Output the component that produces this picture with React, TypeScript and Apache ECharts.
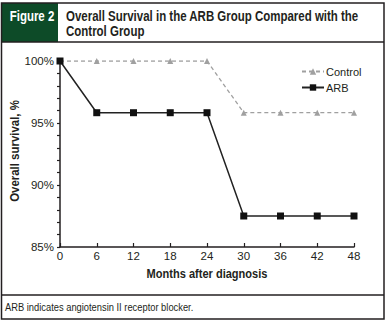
import React, { useEffect, useRef } from "react";
import * as echarts from "echarts";

const months = [0, 6, 12, 18, 24, 30, 36, 42, 48];
const controlValues = [100, 100, 100, 100, 100, 95.83, 95.83, 95.83, 95.83];
const arbValues = [100, 95.83, 95.83, 95.83, 95.83, 87.5, 87.5, 87.5, 87.5];
const seriesNames = ["Control", "ARB"];
const figureLabel = "Figure 2";
const titleLines = ["Overall Survival in the ARB Group Compared with the", "Control Group"];
const xAxisTitle = "Months after diagnosis";
const yAxisTitle = "Overall survival, %";
const footnote = "ARB indicates angiotensin II receptor blocker.";

const FONT = "'Liberation Sans', Arial, sans-serif";
const INK = "#231f20";
const GREEN = "#0d4b28";

export default function App() {
  const ref = useRef<HTMLDivElement>(null);
  useEffect(() => {
    if (!ref.current) return;
    const chart = echarts.init(ref.current, null, { renderer: "svg" });
    chart.setOption({
      animation: false,
      backgroundColor: "#ffffff",
      textStyle: { fontFamily: FONT, color: INK },
      grid: { left: 60, right: 34, top: 61, bottom: 75, containLabel: false, outerBoundsMode: "none" },
      legend: {
        data: seriesNames,
        orient: "vertical",
        left: 296,
        top: 61,
        itemWidth: 22,
        itemHeight: 8,
        itemGap: 5,
        textStyle: { fontFamily: FONT, fontSize: 11, color: INK, padding: [0, 0, 0, -3] },
      },
      xAxis: {
        type: "value",
        min: 0,
        max: 48,
        interval: 6,
        axisLine: { lineStyle: { color: INK, width: 1.5 } },
        axisTick: { inside: true, length: 4, lineStyle: { color: INK, width: 1.2 } },
        axisLabel: { fontFamily: FONT, fontSize: 11.5, color: INK, margin: 3 },
        splitLine: { show: false },
      },
      yAxis: {
        type: "value",
        min: 85,
        max: 100,
        interval: 5,
        axisLine: { show: true, lineStyle: { color: INK, width: 1.5 } },
        axisTick: { show: true, inside: false, length: 3, lineStyle: { color: INK, width: 1.2 } },
        minorTick: { show: true, splitNumber: 5, length: 3, lineStyle: { color: INK, width: 1.2 } },
        axisLabel: { fontFamily: FONT, fontSize: 11.5, color: INK, margin: 6, formatter: "{value}%" },
        splitLine: { show: false },
      },
      series: [
        {
          name: seriesNames[0],
          type: "line",
          data: months.map((m, i) => [m, controlValues[i]]),
          symbol: "triangle",
          symbolSize: 6,
          itemStyle: { color: "#a0a0a0" },
          lineStyle: { color: "#a0a0a0", width: 1.3, type: [4, 3] },
          z: 2,
        },
        {
          name: seriesNames[1],
          type: "line",
          data: months.map((m, i) => [m, arbValues[i]]),
          symbol: "rect",
          symbolSize: 7,
          itemStyle: { color: "#111111" },
          lineStyle: { color: "#222222", width: 1.5 },
          z: 3,
        },
      ],
      graphic: [
        { type: "rect", shape: { x: 1, y: 3, width: 57, height: 39 }, style: { fill: GREEN } },
        {
          type: "rect",
          shape: { x: 1.5, y: 3, width: 382.5, height: 316 },
          style: { fill: "none", stroke: INK, lineWidth: 1.5 },
        },
        { type: "line", shape: { x1: 1.5, y1: 42, x2: 384, y2: 42 }, style: { stroke: INK, lineWidth: 1.5 } },
        { type: "line", shape: { x1: 1.5, y1: 295, x2: 384, y2: 295 }, style: { stroke: INK, lineWidth: 1.5 } },
        {
          type: "text",
          x: 32,
          y: 16,
          scaleX: 0.82,
          style: {
            text: figureLabel,
            fill: "#ffffff",
            font: `bold 14px ${FONT}`,
            align: "center",
            verticalAlign: "middle",
          },
        },
        {
          type: "text",
          x: 66,
          y: 16,
          scaleX: 0.82,
          style: { text: titleLines[0], fill: INK, font: `bold 14px ${FONT}`, verticalAlign: "middle" },
        },
        {
          type: "text",
          x: 66,
          y: 31,
          scaleX: 0.82,
          style: { text: titleLines[1], fill: INK, font: `bold 14px ${FONT}`, verticalAlign: "middle" },
        },
        {
          type: "text",
          x: 207,
          y: 274,
          scaleX: 0.85,
          style: {
            text: xAxisTitle,
            fill: INK,
            font: `bold 13px ${FONT}`,
            align: "center",
            verticalAlign: "middle",
          },
        },
        {
          type: "text",
          x: 15,
          y: 151,
          rotation: Math.PI / 2,
          scaleX: 0.88,
          style: {
            text: yAxisTitle,
            fill: INK,
            font: `bold 13px ${FONT}`,
            align: "center",
            verticalAlign: "middle",
          },
        },
        {
          type: "text",
          x: 5,
          y: 307,
          scaleX: 0.85,
          style: { text: footnote, fill: INK, font: `11px ${FONT}`, verticalAlign: "middle" },
        },
      ],
    });
    return () => chart.dispose();
  }, []);
  return <div ref={ref} style={{ position: "fixed", left: 0, top: 0, width: 388, height: 322 }} />;
}
